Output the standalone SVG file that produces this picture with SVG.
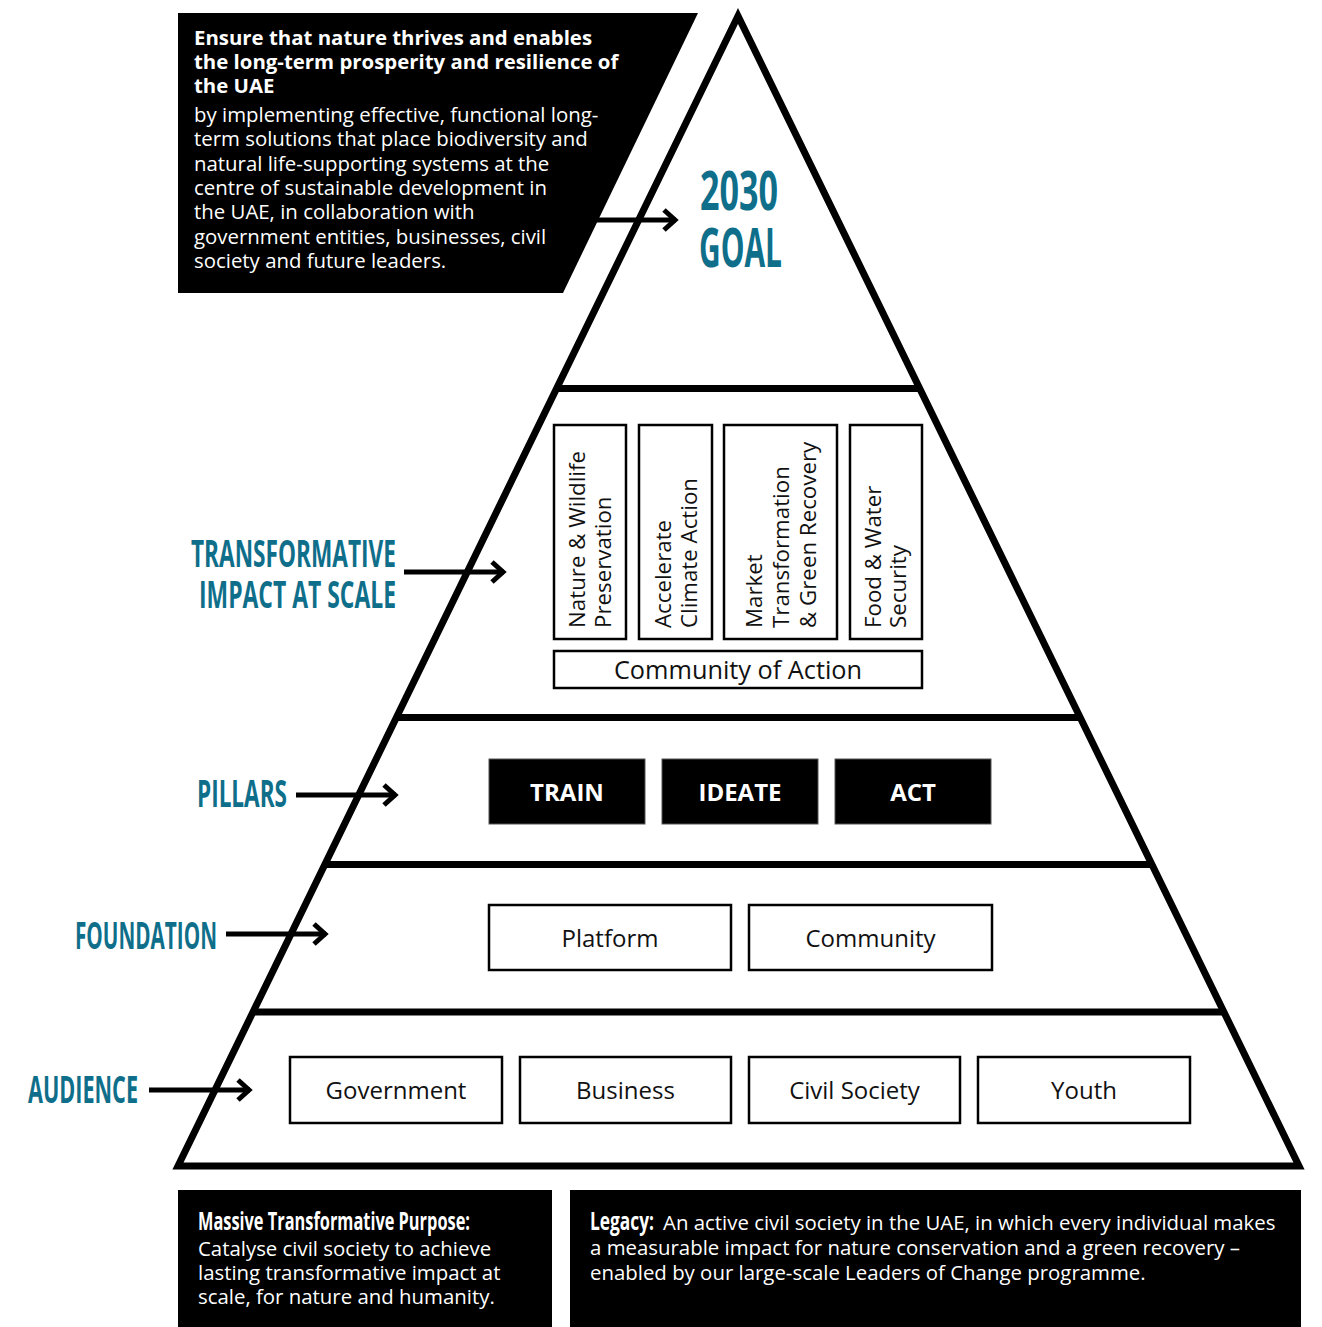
<svg xmlns="http://www.w3.org/2000/svg" width="1322" height="1327" viewBox="0 0 1322 1327">
<defs>
<style>
.bg{fill:#fff}
.tri{fill:none;stroke:#000;stroke-width:7;stroke-linejoin:miter;stroke-miterlimit:10}
.bar{stroke:#000;stroke-width:7}
.box{fill:#fff;stroke:#000;stroke-width:2.5}
.pill{fill:#000;stroke:#555;stroke-width:1}
.blk{fill:#000}
.lbl{font-family:"Open Sans","Noto Sans",sans-serif;font-size:24px;fill:#111;text-anchor:middle}
.lbl-lg{font-size:25.3px}
.vl{font-family:"Open Sans","Noto Sans",sans-serif;font-size:22.3px;fill:#111}
.pt{font-family:"Open Sans","Noto Sans",sans-serif;font-size:24px;font-weight:700;fill:#fff;text-anchor:middle}
.cond{font-family:"Open Sans","Noto Sans",sans-serif;font-weight:700;fill:#0f6f8b}
.wb{font-family:"Open Sans","Noto Sans",sans-serif;font-size:20.4px;font-weight:700;fill:#fff}
.wr{font-family:"Open Sans","Noto Sans",sans-serif;font-size:20.4px;fill:#fff}
.wc{font-family:"Open Sans","Noto Sans",sans-serif;font-size:25px;font-weight:700;fill:#fff}
.arr{stroke:#000;stroke-width:5;fill:none;marker-end:url(#chev)}
</style>
<marker id="chev" markerUnits="userSpaceOnUse" viewBox="-20 -15 26 30" markerWidth="26" markerHeight="30" refX="0" refY="0" orient="auto">
<path d="M-12,-10 L-1,0 L-12,10" fill="none" stroke="#000" stroke-width="5" stroke-linejoin="miter"/>
</marker>
</defs>
<rect class="bg" x="0" y="0" width="1322" height="1327"/>

<g id="pyramid">
<polygon class="tri" points="738,16 178,1166 1299,1166"/>
<line class="bar" x1="557" y1="388.5" x2="919" y2="388.5"/>
<line class="bar" x1="397" y1="717.5" x2="1080" y2="717.5"/>
<line class="bar" x1="325" y1="864.5" x2="1152" y2="864.5"/>
<line class="bar" x1="253" y1="1012" x2="1224" y2="1012"/>
</g>

<g id="goal-box">
<polygon class="blk" points="178,13 698,13 563,293 178,293"/>
<text class="wb" x="194" y="45">Ensure that nature thrives and enables</text>
<text class="wb" x="194" y="69">the long-term prosperity and resilience of</text>
<text class="wb" x="194" y="93">the UAE</text>
<text class="wr" x="194" y="122">by implementing effective, functional long-</text>
<text class="wr" x="194" y="146.3">term solutions that place biodiversity and</text>
<text class="wr" x="194" y="170.6">natural life-supporting systems at the</text>
<text class="wr" x="194" y="195">centre of sustainable development in</text>
<text class="wr" x="194" y="219">the UAE, in collaboration with</text>
<text class="wr" x="194" y="243.5">government entities, businesses, civil</text>
<text class="wr" x="194" y="268">society and future leaders.</text>
</g>

<g id="goal-label">
<text class="cond" x="700" y="210" font-size="54" textLength="78" lengthAdjust="spacingAndGlyphs">2030</text>
<text class="cond" x="699" y="267" font-size="54" textLength="83" lengthAdjust="spacingAndGlyphs">GOAL</text>
</g>

<g id="side-labels">
<text class="cond" x="191" y="567" font-size="38" textLength="205" lengthAdjust="spacingAndGlyphs">TRANSFORMATIVE</text>
<text class="cond" x="199" y="608" font-size="38" textLength="197" lengthAdjust="spacingAndGlyphs">IMPACT AT SCALE</text>
<text class="cond" x="197" y="807" font-size="38" textLength="90" lengthAdjust="spacingAndGlyphs">PILLARS</text>
<text class="cond" x="75" y="949" font-size="38" textLength="142" lengthAdjust="spacingAndGlyphs">FOUNDATION</text>
<text class="cond" x="28" y="1103" font-size="38" textLength="110" lengthAdjust="spacingAndGlyphs">AUDIENCE</text>
</g>

<g id="impact">
<g id="nature"><rect class="box" x="554" y="425" width="72" height="214"/>
<text class="vl" transform="translate(585,628) rotate(-90)"><tspan x="0" y="0">Nature &amp; Wildlife</tspan><tspan x="0" y="26">Preservation</tspan></text></g>
<g id="climate"><rect class="box" x="639" y="425" width="73" height="214"/>
<text class="vl" transform="translate(671,628) rotate(-90)"><tspan x="0" y="0">Accelerate</tspan><tspan x="0" y="26">Climate Action</tspan></text></g>
<g id="market"><rect class="box" x="724" y="425" width="113" height="214"/>
<text class="vl" transform="translate(762,628) rotate(-90)"><tspan x="0" y="0">Market</tspan><tspan x="0" y="27">Transformation</tspan><tspan x="0" y="54">&amp; Green Recovery</tspan></text></g>
<g id="food"><rect class="box" x="850" y="425" width="72" height="214"/>
<text class="vl" transform="translate(881,628) rotate(-90)"><tspan x="0" y="0">Food &amp; Water</tspan><tspan x="0" y="25">Security</tspan></text></g>
<g id="community-of-action"><rect class="box" x="554" y="651" width="368" height="37"/>
<text class="lbl lbl-lg" x="738" y="678.5">Community of Action</text></g>
</g>

<g id="pillars">
<g id="train"><rect class="pill" x="489" y="759" width="156" height="65"/><text class="pt" x="567" y="801">TRAIN</text></g>
<g id="ideate"><rect class="pill" x="662" y="759" width="156" height="65"/><text class="pt" x="740" y="801">IDEATE</text></g>
<g id="act"><rect class="pill" x="835" y="759" width="156" height="65"/><text class="pt" x="913" y="801">ACT</text></g>
</g>

<g id="foundation">
<g id="platform"><rect class="box" x="489" y="905" width="242" height="65"/><text class="lbl" x="610" y="946.5">Platform</text></g>
<g id="community"><rect class="box" x="749" y="905" width="243" height="65"/><text class="lbl" x="870.5" y="946.5">Community</text></g>
</g>

<g id="audience">
<g id="government"><rect class="box" x="290" y="1057" width="212" height="66"/><text class="lbl" x="396" y="1098.5">Government</text></g>
<g id="business"><rect class="box" x="520" y="1057" width="211" height="66"/><text class="lbl" x="625.5" y="1098.5">Business</text></g>
<g id="civil-society"><rect class="box" x="749" y="1057" width="211" height="66"/><text class="lbl" x="854.5" y="1098.5">Civil Society</text></g>
<g id="youth"><rect class="box" x="978" y="1057" width="212" height="66"/><text class="lbl" x="1084" y="1098.5">Youth</text></g>
</g>

<g id="connectors">
<line class="arr" x1="597" y1="220" x2="676" y2="220"/>
<line class="arr" x1="404" y1="572" x2="504" y2="572"/>
<line class="arr" x1="296" y1="795" x2="396" y2="795"/>
<line class="arr" x1="226" y1="934" x2="326" y2="934"/>
<line class="arr" x1="149" y1="1090" x2="250" y2="1090"/>
</g>

<g id="purpose">
<rect class="blk" x="178" y="1190" width="374" height="137"/>
<text class="wc" x="198" y="1230" textLength="272" lengthAdjust="spacingAndGlyphs">Massive Transformative Purpose:</text>
<text class="wr" x="198" y="1256">Catalyse civil society to achieve</text>
<text class="wr" x="198" y="1280">lasting transformative impact at</text>
<text class="wr" x="198" y="1304">scale, for nature and humanity.</text>
</g>

<g id="legacy">
<rect class="blk" x="570" y="1190" width="731" height="137"/>
<text class="wc" x="590" y="1230" textLength="64" lengthAdjust="spacingAndGlyphs">Legacy:</text>
<text class="wr" x="663" y="1230">An active civil society in the UAE, in which every individual makes</text>
<text class="wr" x="590" y="1255">a measurable impact for nature conservation and a green recovery –</text>
<text class="wr" x="590" y="1280">enabled by our large-scale Leaders of Change programme.</text>
</g>
</svg>
